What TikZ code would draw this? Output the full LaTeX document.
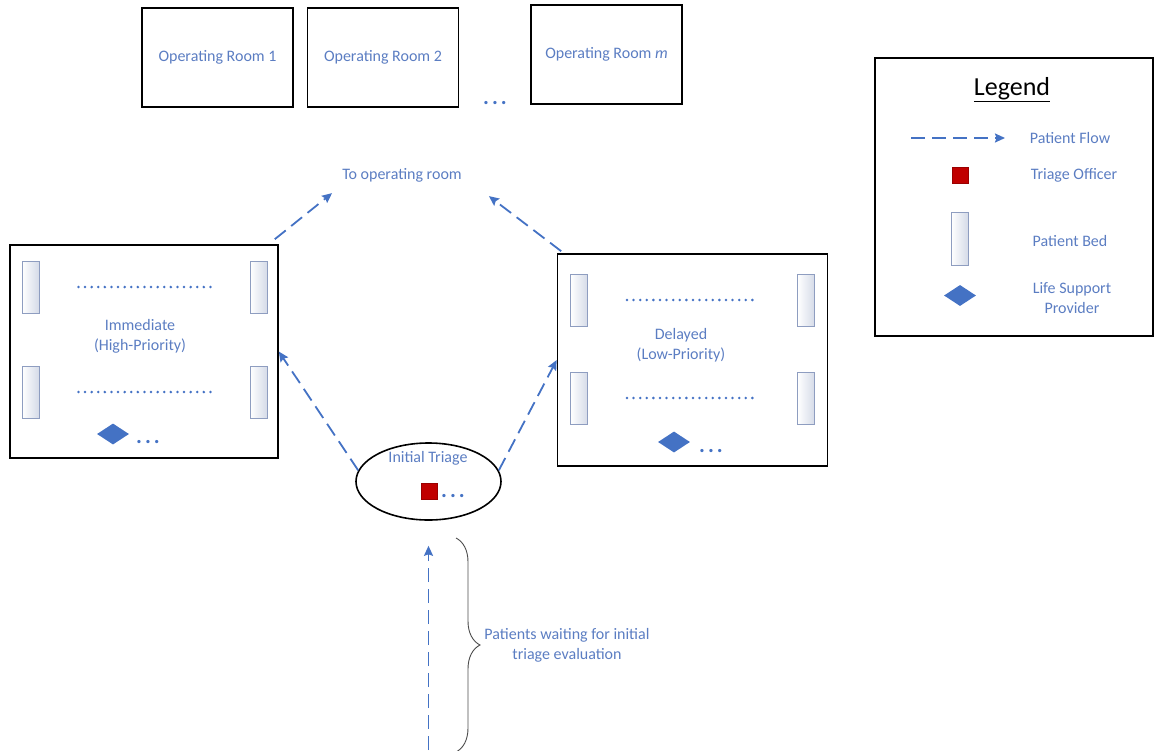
\documentclass[tikz,border=0pt]{standalone}
\usepackage{fontspec}
\setmainfont{Carlito}
\usetikzlibrary{arrows.meta,shapes.geometric,decorations.pathreplacing}

\definecolor{txtblue}{HTML}{5B7DC2}
\definecolor{flowblue}{HTML}{4472C4}
\definecolor{officered}{HTML}{C00000}
\definecolor{bedline}{HTML}{8E9DC0}
\definecolor{bedfill}{HTML}{D5DBE8}
\newcommand{\dotrow}{\textbf{.\hspace{3pt}.\hspace{3pt}.}}

\begin{document}
\begin{tikzpicture}[x=1pt,y=-1pt,
  room/.style = {draw,line width=1.6pt,minimum width=151pt,minimum height=99pt,inner sep=0pt},
  ward/.style = {draw,line width=1.6pt,inner sep=0pt},
  lbl/.style = {text=txtblue,font=\fontsize{16}{20}\selectfont,align=center},
  bed/.style = {draw=bedline,line width=0.9pt,left color=white,right color=bedfill,minimum width=17pt,minimum height=52pt,inner sep=0pt},
  provider/.style = {diamond,fill=flowblue,minimum width=32pt,minimum height=21pt,inner sep=0pt},
  officer/.style = {draw=officered!80!black,line width=0.5pt,fill=officered,minimum size=16pt,inner sep=0pt},
  more/.style = {text=flowblue,font=\fontsize{22}{22}\selectfont,inner sep=0pt},
  flow/.style = {draw=flowblue,line width=1.8pt,dash pattern=on 14pt off 7pt,-{Stealth[length=10pt,width=9pt,inset=1.5pt]}},
  beds/.style = {draw=flowblue,line width=2.8pt,dash pattern=on 0pt off 6.6pt,line cap=round,shorten <=39pt,shorten >=39pt}]

\useasboundingbox (0,0) rectangle (1154,750);

\node[room,lbl] (or1) at (217.5,57.5) {Operating Room 1};
\node[room,lbl] (or2) at (383,57.5) {Operating Room 2};
\node[room,lbl] (orm) at (606.5,54.5) {Operating Room \textit{m}};
\node[more] (ordots) at (495,103) {\dotrow};
\node[lbl,inner sep=4pt] (toor) at (402,175) {To operating room};

\node[ward,minimum width=268pt,minimum height=213pt] (imm) at (144,351.5) {};
\node[lbl] (immtxt) at (140,336) {Immediate\\(High-Priority)};
\node[bed] (i1) at (30.5,287) {};
\node[bed] (i2) at (258.5,287) {};
\node[bed] (i3) at (30.5,392) {};
\node[bed] (i4) at (258.5,392) {};
\node[provider] (iprov) at (113,434) {};
\node[more] (idots) at (148,442) {\dotrow};

\node[ward,minimum width=270pt,minimum height=212pt] (del) at (692.5,360) {};
\node[lbl] (deltxt) at (681,345) {Delayed\\(Low-Priority)};
\node[bed] (d1) at (579,300) {};
\node[bed] (d2) at (806,300) {};
\node[bed] (d3) at (579,398) {};
\node[bed] (d4) at (806,398) {};
\node[provider] (dprov) at (674,442) {};
\node[more] (ddots) at (711,451) {\dotrow};

\node[ellipse,draw,line width=1.6pt,minimum width=145pt,minimum height=77pt] (tri) at (428.5,481.5) {};
\node[lbl] (tritxt) at (428,458) {Initial Triage};
\node[officer] (toff) at (429,491) {};
\node[more] (tdots) at (453,496) {\dotrow};

\coordinate (queue) at (428.5,750);
\coordinate (bt) at (456,538);
\coordinate (bb) at (456,752);
\node[lbl] (wait) at (567,645) {Patients waiting for initial\\triage evaluation};

\draw[beds] (i1) -- (i2);
\draw[beds] (i3) -- (i4);
\draw[beds] (d1) -- (d2);
\draw[beds] (d3) -- (d4);

\draw[flow] ([shift={(-4,-5)}]imm.north east) -- ([shift={(-6,7)}]toor.south west);
\draw[flow] ([shift={(4.5,-2)}]del.north west) -- ([shift={(23,10)}]toor.south east);
\draw[flow] (tri.171) -- (imm.east);
\draw[flow] (tri.9) -- (del.west);
\draw[flow,shorten >=25pt] (queue) -- (tri.south);
\draw[decorate,decoration={brace,amplitude=24pt},line width=0.9pt,black!70] (bt) -- (bb);

\node[ward,minimum width=278pt,minimum height=278pt] (leg) at (1014,197) {};
\node[font=\fontsize{26}{30}\selectfont] (legt) at (1012,90) {\underline{Legend}};
\coordinate (la) at (911,138);
\coordinate (lb) at (1005,138);
\draw[flow] (la) -- (lb);
\node[lbl] (lflow) at (1070,138) {Patient Flow};
\node[officer] (loff) at (960.5,175) {};
\node[lbl] (lofftxt) at (1074,175) {Triage Officer};
\node[bed,minimum height=53pt] (lbed) at (959.5,238.5) {};
\node[lbl] (lbedtxt) at (1070,241) {Patient Bed};
\node[provider] (lprov) at (960,295.5) {};
\node[lbl] (lprovtxt) at (1072,298.5) {Life Support\\Provider};

\end{tikzpicture}
\end{document}
